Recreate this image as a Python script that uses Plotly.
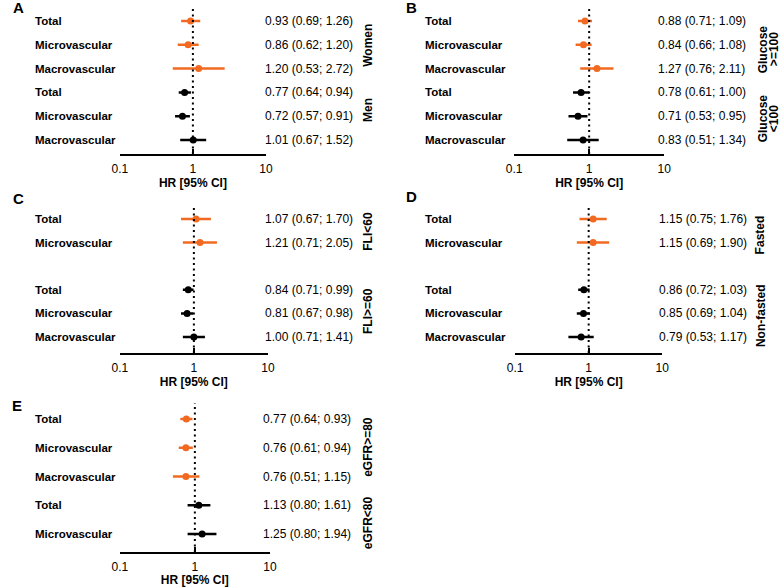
import plotly.graph_objects as go

# ------ data ------ #
rows_A = ["Total", "Microvascular", "Macrovascular", "Total", "Microvascular", "Macrovascular"]
hr_A = [0.93, 0.86, 1.20, 0.77, 0.72, 1.01]
lo_A = [0.69, 0.62, 0.53, 0.64, 0.57, 0.67]
hi_A = [1.26, 1.20, 2.72, 0.94, 0.91, 1.52]
grp_A = [["Women"], ["Men"]]
n_first_A = 3

rows_B = ["Total", "Microvascular", "Macrovascular", "Total", "Microvascular", "Macrovascular"]
hr_B = [0.88, 0.84, 1.27, 0.78, 0.71, 0.83]
lo_B = [0.71, 0.66, 0.76, 0.61, 0.53, 0.51]
hi_B = [1.09, 1.08, 2.11, 1.00, 0.95, 1.34]
grp_B = [["Glucose", ">=100"], ["Glucose", "<100"]]
n_first_B = 3

rows_C = ["Total", "Microvascular", "Total", "Microvascular", "Macrovascular"]
hr_C = [1.07, 1.21, 0.84, 0.81, 1.00]
lo_C = [0.67, 0.71, 0.71, 0.67, 0.71]
hi_C = [1.70, 2.05, 0.99, 0.98, 1.41]
grp_C = [["FLI<60"], ["FLI>=60"]]
n_first_C = 2

rows_D = ["Total", "Microvascular", "Total", "Microvascular", "Macrovascular"]
hr_D = [1.15, 1.15, 0.86, 0.85, 0.79]
lo_D = [0.75, 0.69, 0.72, 0.69, 0.53]
hi_D = [1.76, 1.90, 1.03, 1.04, 1.17]
grp_D = [["Fasted"], ["Non-fasted"]]
n_first_D = 2

rows_E = ["Total", "Microvascular", "Macrovascular", "Total", "Microvascular"]
hr_E = [0.77, 0.76, 0.76, 1.13, 1.25]
lo_E = [0.64, 0.61, 0.51, 0.80, 0.80]
hi_E = [0.93, 0.94, 1.15, 1.61, 1.94]
grp_E = [["eGFR>=80"], ["eGFR<80"]]
n_first_E = 3

tick_vals = [0.1, 1, 10]
tick_text = ["0.1", "1", "10"]

# ------ layout (pixels) ------ #
W, H = 784, 587
ORANGE = "#f26a21"
FONT = "Liberation Sans, Arial, sans-serif"

panels = [
    dict(name="A", rows=rows_A, hr=hr_A, lo=lo_A, hi=hi_A, grp=grp_A, nf=n_first_A,
         pos=[0, 1, 2, 3, 4, 5], x0=114, x1=263, top=8, base=154, row0=21, step=23.8,
         lab_x=25, val_x=260, grp_x=367, grp_y=[1.0, 3.74], letter=(3, 7)),
    dict(name="B", rows=rows_B, hr=hr_B, lo=lo_B, hi=hi_B, grp=grp_B, nf=n_first_B,
         pos=[0, 1, 2, 3, 4, 5], x0=516, x1=669, top=8, base=154, row0=21, step=23.8,
         lab_x=423, val_x=661, grp_x=775, grp_y=[1.2, 4.1], letter=(404, 7)),
    dict(name="C", rows=rows_C, hr=hr_C, lo=lo_C, hi=hi_C, grp=grp_C, nf=n_first_C,
         pos=[0, 1, 3, 4, 5], x0=114, x1=265, top=205, base=353, row0=219, step=23.6,
         lab_x=25, val_x=260, grp_x=367, grp_y=[0.5, 3.9], letter=(3, 198)),
    dict(name="D", rows=rows_D, hr=hr_D, lo=lo_D, hi=hi_D, grp=grp_D, nf=n_first_D,
         pos=[0, 1, 3, 4, 5], x0=517, x1=667, top=205, base=353, row0=219, step=23.6,
         lab_x=423, val_x=662, grp_x=767, grp_y=[0.68, 4.1], letter=(404, 196)),
    dict(name="E", rows=rows_E, hr=hr_E, lo=lo_E, hi=hi_E, grp=grp_E, nf=n_first_E,
         pos=[0, 1, 2, 3, 4], x0=114, x1=267, top=403, base=552, row0=419, step=28.75,
         lab_x=25, val_x=258, grp_x=367, grp_y=[0.97, 3.59], letter=(2, 405)),
]

fig = go.Figure()
annotations = []
shapes = []

for k, p in enumerate(panels):
    sfx = "" if k == 0 else str(k + 1)
    xa, ya = "x" + sfx, "y" + sfx
    nf = p["nf"]
    colors = [ORANGE] * nf + ["black"] * (len(p["hr"]) - nf)

    for i in range(len(p["hr"])):
        fig.add_trace(go.Scatter(
            x=[p["hr"][i]], y=[p["pos"][i]], mode="markers",
            marker=dict(color=colors[i], size=7),
            error_x=dict(type="data", symmetric=False,
                         array=[p["hi"][i] - p["hr"][i]],
                         arrayminus=[p["hr"][i] - p["lo"][i]],
                         width=0, thickness=2.5, color=colors[i]),
            xaxis=xa, yaxis=ya, showlegend=False, cliponaxis=False))

    # axes
    bottom = (p["base"] - p["row0"]) / p["step"]
    top = -(p["row0"] - p["top"]) / p["step"]
    fig.layout["xaxis" + sfx] = dict(
        type="log", range=[-1, 1], domain=[p["x0"] / W, p["x1"] / W],
        anchor=ya, showline=True, linewidth=2, linecolor="black",
        ticks="inside", ticklen=5, tickwidth=2, tickcolor="black",
        tickvals=tick_vals, ticktext=tick_text, showgrid=False, zeroline=False,
        ticklabelstandoff=3,
        tickfont=dict(family=FONT, size=12, color="black"),
        title=dict(text="<b>HR [95% CI]</b>", standoff=3,
                   font=dict(family=FONT, size=12, color="black")),
        fixedrange=True)
    fig.layout["yaxis" + sfx] = dict(
        range=[bottom, top], domain=[1 - p["base"] / H, 1 - p["top"] / H],
        anchor=xa, visible=False, fixedrange=True)

    # dotted reference line at HR = 1
    shapes.append(dict(type="line", xref=xa, yref=ya + " domain", x0=1, x1=1, y0=0, y1=1,
                       line=dict(color="black", width=2, dash="2px,3.5px")))

    # row labels and values
    for i in range(len(p["hr"])):
        annotations.append(dict(
            text="<b>%s</b>" % p["rows"][i], xref="paper", yref=ya,
            x=p["lab_x"] / W, y=p["pos"][i], xanchor="left", yanchor="middle",
            showarrow=False, font=dict(family=FONT, size=11.5, color="black")))
        annotations.append(dict(
            text="%.2f (%.2f; %.2f)" % (p["hr"][i], p["lo"][i], p["hi"][i]),
            xref="paper", yref=ya, x=p["val_x"] / W, y=p["pos"][i],
            xanchor="left", yanchor="middle", showarrow=False,
            font=dict(family=FONT, size=12, color="black")))

    # group labels (one rotated line per text line, tightly stacked)
    for lines, gy in zip(p["grp"], p["grp_y"]):
        n = len(lines)
        for j, line in enumerate(lines):
            gx = p["grp_x"] + (j - (n - 1) / 2) * 11
            annotations.append(dict(
                text="<b>%s</b>" % line, xref="paper", yref=ya, x=gx / W, y=gy,
                xanchor="center", yanchor="middle", textangle=-90, showarrow=False,
                font=dict(family=FONT, size=12, color="black")))

    # panel letter
    lx, ly = p["letter"]
    annotations.append(dict(
        text="<b>%s</b>" % p["name"], xref="paper", yref="paper",
        x=lx / W, y=1 - ly / H, xanchor="left", yanchor="middle", showarrow=False,
        font=dict(family=FONT, size=15, color="black")))

fig.update_layout(width=W, height=H, margin=dict(l=0, r=0, t=0, b=0),
                  plot_bgcolor="white", paper_bgcolor="white",
                  annotations=annotations, shapes=shapes,
                  font=dict(family=FONT))

# page body has a default 8px margin; drop it so the figure sits at the window origin
fig.write_html("out.html", config={"displayModeBar": False},
               post_script="document.body.style.margin='0';")
